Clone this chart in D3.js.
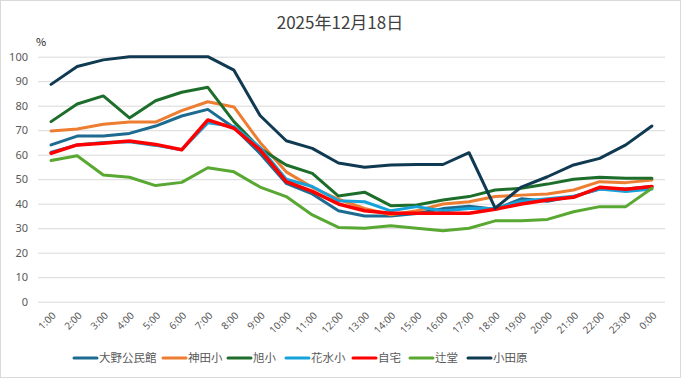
<!DOCTYPE html>
<html><head><meta charset="utf-8">
<script src="https://cdn.jsdelivr.net/npm/d3@7"></script>
<style>
html,body{margin:0;padding:0;background:#fff;}
svg{display:block;font-family:"Noto Sans CJK JP","Noto Sans",sans-serif;}
</style></head>
<body><svg id="c" width="681" height="379"></svg>
<script>
const title = "2025年12月18日";
const hours = ["1:00","2:00","3:00","4:00","5:00","6:00","7:00","8:00","9:00","10:00","11:00","12:00","13:00","14:00","15:00","16:00","17:00","18:00","19:00","20:00","21:00","22:00","23:00","0:00"];
const yTicks = [0,10,20,30,40,50,60,70,80,90,100];
const seriesNames = ["大野公民館","神田小","旭小","花水小","自宅","辻堂","小田原"];
const seriesColors = ["#1d6b90","#ed7d31","#1e6e2b","#16a3dc","#ff0000","#58a832","#0f3a52"];
const onoKominkan = [64,67.6,67.6,68.7,71.7,75.8,78.5,71,60.5,48.3,44,37.1,35,35,36,38,39,37.7,42,41,43,46,46,47];
const kandaSho    = [69.7,70.5,72.4,73.3,73.3,78,81.6,79.5,65,53,46.7,41.8,38.1,35.5,37.1,39.9,40.8,42.9,43.5,44,45.6,49,48.6,49.7];
const asahiSho    = [73.5,80.7,84,75,82,85.5,87.5,73.5,62.5,55.8,52.4,43.1,44.7,39.2,39.5,41.5,42.9,45.6,46.3,48,50,50.8,50.4,50.4];
const hanamizuSho = [61,64,65,65.3,63.8,62,73,71.5,63,50,47,41.2,40.8,37.1,38.8,37,38,38,41,42,43,46,45,46];
const jitaku      = [60.6,64,64.7,65.6,64.2,62,74.2,70.8,62,49,45,39.9,37.1,36.1,36.1,36.1,36.1,37.7,39.9,41.5,42.6,46.7,45.9,47];
const tsujido     = [57.6,59.6,51.7,50.8,47.4,48.7,54.7,53,46.8,42.9,35.4,30.3,30,31,30,29,30,33,33,33.6,36.7,38.8,38.8,46.3];
const odawara     = [88.7,96,98.7,100,100,100,100,94.5,76,65.7,62.6,56.6,54.9,55.8,56,56,60.8,38.2,46.8,51,55.8,58.5,64,71.7];
const seriesValues = [onoKominkan,kandaSho,asahiSho,hanamizuSho,jitaku,tsujido,odawara];

const svg = d3.select("#c");
// outer border
svg.append("rect").attr("x",0.5).attr("y",0.5).attr("width",680).attr("height",377)
  .attr("fill","#fff").attr("stroke","#d9d9d9");

const x = d3.scaleBand().domain(hours).range([38,665]).padding(0);
const y = d3.scaleLinear().domain([0,100]).range([301.7,56.7]);
const cx = d => x(d) + x.bandwidth()/2;

svg.append("text").attr("x",340).attr("y",29).attr("text-anchor","middle")
  .attr("font-size",17).attr("fill","#404040").text(title);
svg.append("text").attr("x",36).attr("y",46).attr("font-size",11).attr("fill","#222")
  .text("%");

// grid
const yAxis = d3.axisLeft(y).tickValues(yTicks).tickSize(-(665-38)).tickPadding(10);
const gy = svg.append("g").attr("transform","translate(38,0)").call(yAxis);
gy.select(".domain").remove();
gy.selectAll(".tick line").attr("stroke","#d9d9d9").attr("stroke-width",1);
gy.selectAll(".tick text").attr("font-size",11).attr("fill","#595959")
  .attr("font-family","'Noto Sans',sans-serif");

const xAxis = d3.axisBottom(x).tickSize(0).tickPadding(0);
const gx = svg.append("g").attr("transform","translate(0,301.7)").call(xAxis);
gx.select(".domain").remove();
gx.selectAll(".tick text").attr("font-size",10).attr("fill","#595959")
  .attr("font-family","'Noto Sans',sans-serif")
  .attr("text-anchor","end").attr("dy","0.35em")
  .attr("transform","translate(3,12) rotate(-45)");

const line = d3.line().x((d,i)=>cx(hours[i])).y(d=>y(d));
seriesValues.forEach((vals,k)=>{
  svg.append("path").datum(vals).attr("d",line).attr("fill","none")
    .attr("stroke",seriesColors[k]).attr("stroke-width",seriesNames[k]==="自宅"?3.5:3)
    .attr("stroke-linejoin","round").attr("stroke-linecap","round");
});

// legend
const legX = [73,162,227,285,352,409,467];
const lg = svg.append("g");
seriesNames.forEach((n,k)=>{
  lg.append("line").attr("x1",legX[k]+1).attr("x2",legX[k]+24).attr("y1",358).attr("y2",358)
    .attr("stroke",seriesColors[k]).attr("stroke-width",3).attr("stroke-linecap","round");
  lg.append("text").attr("x",legX[k]+26).attr("y",362).attr("font-size",11.5).attr("fill","#595959").text(n);
});
</script></body></html>
